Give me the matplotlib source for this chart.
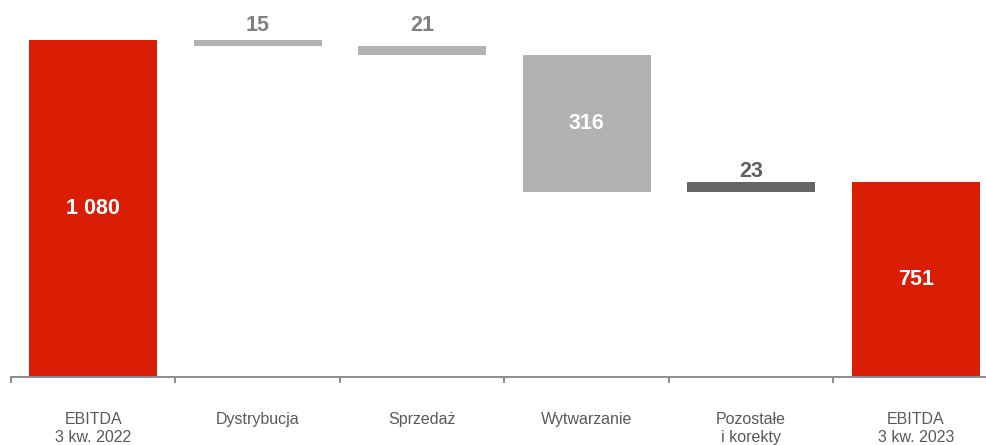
import matplotlib
matplotlib.use("Agg")
import matplotlib.pyplot as plt
import numpy as np

categories = ["EBITDA\n3 kw. 2022", "Dystrybucja", "Sprzedaż", "Wytwarzanie",
              "Pozostałe\ni korekty", "EBITDA\n3 kw. 2023"]
start_value = 1080
changes = [-15, -21, -316, 23]
end_value = 751
value_labels = ["1 080", "15", "21", "316", "23", "751"]

RED = "#D91E05"
LIGHT = "#B2B2B2"
DARK = "#656565"

plt.rcParams["font.family"] = ["Liberation Sans Narrow", "Liberation Sans", "DejaVu Sans"]

# bottoms / heights of each bar in the waterfall
bottoms, heights, colors = [0], [start_value], [RED]
level = start_value
for c in changes:
    lo = min(level, level + c)
    bottoms.append(lo)
    heights.append(abs(c))
    colors.append(LIGHT if c < 0 else DARK)
    level += c
bottoms.append(0)
heights.append(end_value)
colors.append(RED)

fig = plt.figure(figsize=(9.87, 4.45), dpi=100)
ax = fig.add_axes([11 / 987, 68 / 445, 6 * 164.5 / 987, 377 / 445])

y0 = 299
x = np.arange(len(categories))
ax.bar(x, heights, bottom=bottoms, width=0.78, color=colors, zorder=2)

ax.set_xlim(-0.5, len(categories) - 0.5)
ax.set_ylim(y0, 1172)

for s in ["left", "right", "top"]:
    ax.spines[s].set_visible(False)
ax.spines["bottom"].set_color("#8C8C8C")
ax.spines["bottom"].set_linewidth(1.4)
ax.set_yticks([])

ax.set_xticks(x)
ax.set_xticklabels(categories, fontsize=11.5, color="#595959", linespacing=1.25)
ax.tick_params(axis="x", which="major", length=0, pad=25)
ax.set_xticks(np.arange(-0.5, len(categories)), minor=True)
ax.tick_params(axis="x", which="minor", length=4, width=1.4, color="#8C8C8C", direction="out")

# labels inside the tall bars (centred on the visible part)
for i in (0, 3, 5):
    lo = max(bottoms[i], y0)
    ax.text(x[i], (lo + bottoms[i] + heights[i]) / 2, value_labels[i],
            ha="center", va="center", color="white", fontsize=15.5, fontweight="bold")

# labels above the thin bars
above = {1: (2.5, "#808080"), 2: (7.5, "#808080"), 4: (0, "#5F5F5F")}
for i, (off, col) in above.items():
    ax.annotate(value_labels[i], (x[i], bottoms[i] + heights[i]),
                xytext=(0, off), textcoords="offset points",
                ha="center", va="bottom", color=col, fontsize=15.5, fontweight="bold")

fig.savefig("out.png", dpi=100)
